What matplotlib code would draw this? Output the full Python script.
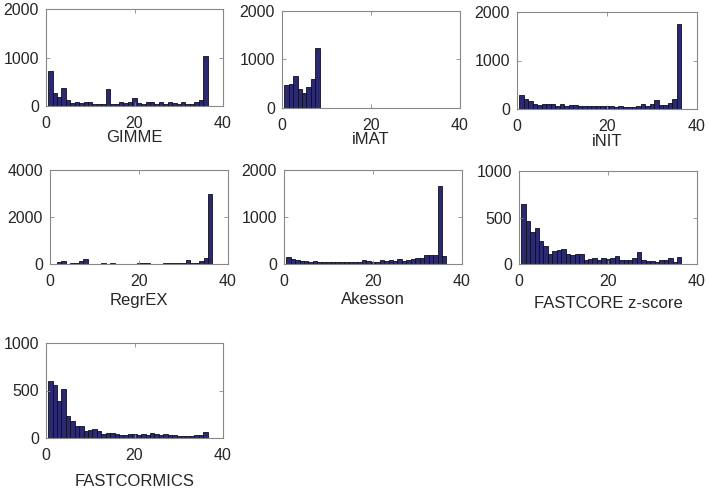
import matplotlib.pyplot as plt
import numpy as np

plt.rcParams['font.family'] = ['Liberation Sans', 'DejaVu Sans']

# counts per bin (bins centred at 1, 2, 3, ...)
gimme = [730, 275, 195, 365, 117, 70, 80, 60, 80, 90, 45, 50, 40, 345, 35, 40, 85, 60,
         80, 165, 55, 35, 75, 85, 40, 85, 50, 85, 60, 35, 80, 45, 45, 75, 125, 1025]
imat = [470, 495, 655, 400, 315, 425, 595, 1230]
init = [285, 210, 160, 110, 90, 100, 95, 100, 70, 95, 70, 75, 75, 70, 70, 70, 70, 70,
        55, 55, 55, 50, 55, 50, 50, 50, 55, 100, 55, 100, 180, 75, 75, 130, 210, 1745]
regrex = [10, 70, 120, 20, 40, 60, 140, 200, 20, 15, 15, 40, 20, 35, 20, 20, 15, 20,
          15, 60, 35, 30, 20, 20, 20, 30, 60, 60, 50, 50, 160, 60, 60, 110, 250, 2960]
akesson = [140, 100, 90, 60, 70, 50, 60, 40, 40, 40, 40, 50, 40, 35, 40, 50, 40, 80,
           60, 40, 50, 80, 60, 80, 70, 100, 70, 80, 100, 130, 130, 200, 200, 200, 1670, 170]
fastcore_z = [650, 460, 340, 385, 250, 190, 105, 135, 150, 165, 110, 95, 110, 110, 45, 55,
              60, 45, 60, 50, 65, 90, 45, 45, 45, 60, 125, 40, 30, 30, 25, 40, 45, 60, 25, 80]
fastcormics = [605, 560, 385, 520, 235, 180, 125, 125, 70, 85, 100, 70, 40, 55, 55, 45,
               35, 35, 40, 40, 35, 40, 30, 55, 45, 30, 40, 30, 35, 25, 20, 20, 25, 30, 30, 65]

names = ['GIMME', 'iMAT', 'iNIT', 'RegrEX', 'Akesson', 'FASTCORE z-score', 'FASTCORMICS']
series = [gimme, imat, init, regrex, akesson, fastcore_z, fastcormics]
ymax = [2000, 2000, 2000, 4000, 2000, 1000, 1000]

# panel boxes in pixels: left, top, right, bottom ; and xlabel centre y
W, H = 708, 491
boxes = [(46, 9, 223, 106), (282, 11, 460, 108), (517, 12, 697, 109),
         (50, 170, 228, 264), (284, 170, 462, 264), (519, 171, 697, 264),
         (46, 343, 223, 438)]
label_y = [137, 140, 142, 300, 300, 303, 482]

fig = plt.figure(figsize=(W / 100, H / 100), dpi=100)

for name, vals, top, box, ly in zip(names, series, ymax, boxes, label_y):
    l, t, r, b = box
    ax = fig.add_axes([l / W, 1 - b / H, (r - l) / W, (b - t) / H])

    x = np.arange(1, len(vals) + 1)
    ax.bar(x, vals, width=1.0, color='#2b2a70', edgecolor='#0d0d26', linewidth=0.6)

    ax.set_xlim(0, 40)
    ax.set_ylim(0, top)
    ax.set_xticks([0, 20, 40])
    ax.set_yticks([0, top / 2, top])
    ax.set_yticklabels([str(int(v)) for v in (0, top / 2, top)])

    ax.tick_params(direction='in', length=3, width=0.6, colors='#888888',
                   labelcolor='#262626', labelsize=11.5, top=True, right=True)
    ax.tick_params(axis='x', pad=7)
    ax.tick_params(axis='y', pad=5)
    for s in ax.spines.values():
        s.set_color('#888888')
        s.set_linewidth(0.8)

    # xlabel placed in figure pixels
    ax.set_xlabel(name, fontsize=12, color='#262626', va='center')
    ax.xaxis.set_label_coords(0.5, -(ly - b) / (b - t))

fig.savefig('out.png', dpi=100)
